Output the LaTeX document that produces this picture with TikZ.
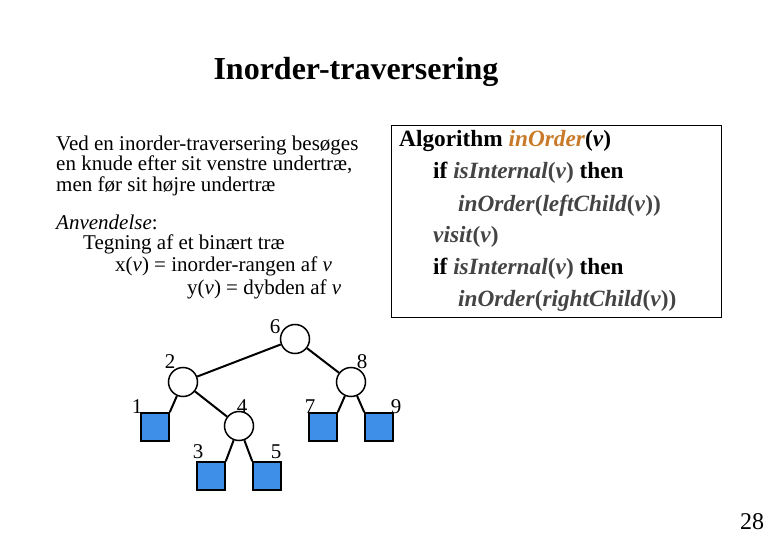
\documentclass[tikz,border=0pt]{standalone}
\usepackage{fontspec}
\setmainfont{Liberation Serif}
\begin{document}
\begin{tikzpicture}[x=1pt,y=-1pt,
  inner/.style={circle,draw,line width=1.5pt,fill=white,minimum size=29pt,inner sep=0pt},
  leaf/.style={rectangle,draw,line width=1.5pt,fill=leafblue,minimum size=28pt,inner sep=0pt},
  lbl/.style={font=\fontsize{21}{21}\selectfont,inner sep=0pt},
  txt/.style={anchor=west,inner sep=0pt,font=\fontsize{21}{22}\selectfont},
  alg/.style={anchor=west,inner sep=0pt,font=\fontsize{23.3}{24}\selectfont\bfseries},
  edge/.style={line width=2pt}]
\definecolor{leafblue}{HTML}{3D8FE8}
\definecolor{algorange}{HTML}{C87A28}
\definecolor{alggray}{HTML}{444444}
\useasboundingbox (0,0) rectangle (780,540);
\node[inner sep=0pt,font=\fontsize{32}{34}\selectfont\bfseries] (title) at (356,72) {Inorder-traversering};
\node[txt] (t1) at (56,145) {Ved en inorder-traversering besøges};
\node[txt] (t2) at (56,165) {en knude efter sit venstre undertræ,};
\node[txt] (t3) at (56,186) {men før sit højre undertræ};
\node[txt] (t4) at (56,222) {\textit{Anvendelse}:};
\node[txt] (t5) at (83,244) {Tegning af et binært træ};
\node[txt] (t6) at (115,266) {x(\textit{v}) = inorder-rangen af \textit{v}};
\node[txt] (t7) at (187,289) {y(\textit{v}) = dybden af \textit{v}};
\node[draw,line width=0.8pt,minimum width=330pt,minimum height=192pt,anchor=north west] (box) at (391,125) {};
\node[alg] (a1) at (399,141) {Algorithm \textcolor{algorange}{\textit{inOrder}}(\textit{v})};
\node[alg] (a2) at (433,173) {if \textcolor{alggray}{\textit{isInternal}(\textit{v})} then};
\node[alg] (a3) at (458,206) {\color{alggray}\textit{inOrder}(\textit{leftChild}(\textit{v}))};
\node[alg] (a4) at (433,237) {\color{alggray}\textit{visit}(\textit{v})};
\node[alg] (a5) at (433,269) {if \textcolor{alggray}{\textit{isInternal}(\textit{v})} then};
\node[alg] (a6) at (458,301) {\color{alggray}\textit{inOrder}(\textit{rightChild}(\textit{v}))};
\node[inner] (n6) at (295,339) {};
\node[inner] (n2) at (183,382) {};
\node[inner] (n8) at (351,382) {};
\node[inner] (n4) at (239,426) {};
\node[leaf] (n1) at (155,427) {};
\node[leaf] (n7) at (323,427) {};
\node[leaf] (n9) at (379,427) {};
\node[leaf] (n3) at (211,476) {};
\node[leaf] (n5) at (267,476) {};
\draw[edge] (n6) -- (n2);
\draw[edge] (n6) -- (n8);
\draw[edge] (n2) -- (n1.north east);
\draw[edge] (n2) -- (n4);
\draw[edge] (n8) -- (n7.north east);
\draw[edge] (n8) -- (n9.north west);
\draw[edge] (n4) -- (n3.north east);
\draw[edge] (n4) -- (n5.north west);
\node[lbl] (l6) at (275,327) {6};
\node[lbl] (l2) at (170,362) {2};
\node[lbl] (l8) at (362,362) {8};
\node[lbl] (l1) at (137,407) {1};
\node[lbl] (l4) at (242,407) {4};
\node[lbl] (l7) at (310,407) {7};
\node[lbl] (l9) at (396,407) {9};
\node[lbl] (l3) at (198,452) {3};
\node[lbl] (l5) at (276,452) {5};
\node[inner sep=0pt,font=\fontsize{24}{24}\selectfont] (pg) at (752,522) {28};
\end{tikzpicture}
\end{document}
